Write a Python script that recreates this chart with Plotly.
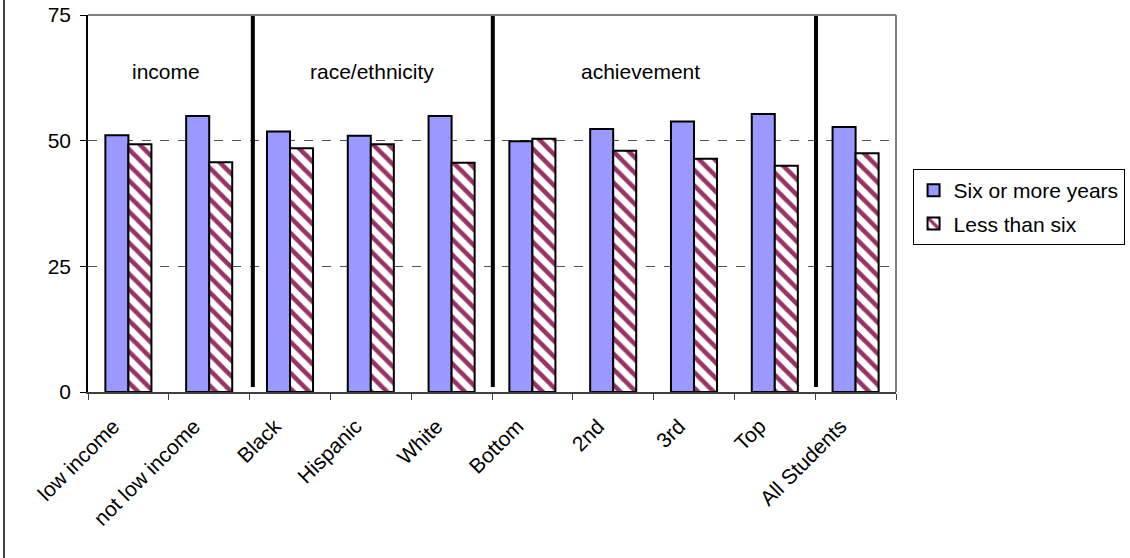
import plotly.graph_objects as go

categories = ["low income", "not low income", "Black", "Hispanic", "White",
              "Bottom", "2nd", "3rd", "Top", "All Students"]
six_or_more = [51.1, 54.9, 51.8, 51.0, 54.9, 49.9, 52.3, 53.8, 55.3, 52.7]
less_than_six = [49.3, 45.7, 48.5, 49.3, 45.6, 50.4, 48.0, 46.4, 45.0, 47.5]
y_ticks = [0, 25, 50, 75]
group_labels = ["income", "race/ethnicity", "achievement"]
group_label_pos = [0.47, 3.01, 6.34]
separator_pos = [1.54, 4.51, 8.51]

FONT = "Liberation Sans, Arial, sans-serif"
FS = 21

fig = go.Figure()
fig.add_trace(go.Bar(
    x=categories, y=six_or_more, name="Six or more years",
    marker=dict(color="#9999FF", line=dict(color="black", width=2)),
    legendgroup="a",
))
fig.add_trace(go.Bar(
    x=categories, y=less_than_six, name="Less than six",
    marker=dict(color="white", line=dict(color="black", width=2),
                pattern=dict(shape="\\", fgcolor="#993366", bgcolor="white",
                             size=11, solidity=0.42, fillmode="replace")),
    legendgroup="b",
))

shapes = []
for p in separator_pos:
    shapes.append(dict(type="line", xref="x", yref="y", x0=p, x1=p, y0=1, y1=77,
                       line=dict(color="black", width=4), layer="above"))
# gray top/right border of plot area
shapes.append(dict(type="line", xref="paper", yref="paper", x0=0, x1=1, y0=1, y1=1,
                   line=dict(color="#808080", width=2)))
shapes.append(dict(type="line", xref="paper", yref="paper", x0=1, x1=1, y0=0, y1=1,
                   line=dict(color="#808080", width=2)))
# outer chart frame left line
shapes.append(dict(type="line", xref="paper", yref="paper",
                   x0=(4 - 88) / 808, x1=(4 - 88) / 808, y0=-166 / 377, y1=1 + 15 / 377,
                   line=dict(color="black", width=1.5)))

annotations = [dict(x=gx, y=63.7, xref="x", yref="y", text=t, showarrow=False,
                    font=dict(size=FS, color="black", family=FONT))
               for gx, t in zip(group_label_pos, group_labels)]

fig.update_layout(
    width=1130, height=558,
    margin=dict(l=88, r=234, t=15, b=166, autoexpand=False),
    paper_bgcolor="white", plot_bgcolor="white",
    barmode="group", bargap=0.43, bargroupgap=0,
    font=dict(family=FONT, size=FS, color="black"),
    showlegend=True,
    legend=dict(x=1.0205, y=0.5915, xanchor="left", yanchor="top",
                bordercolor="black", borderwidth=1, bgcolor="white",
                font=dict(size=FS, family=FONT), traceorder="grouped",
                tracegroupgap=3, itemwidth=30),
    shapes=shapes,
    annotations=annotations,
)
fig.update_xaxes(
    type="category", tickangle=-45, ticks="outside", tickson="boundaries",
    ticklen=6, tickcolor="#404040", showline=True, linecolor="#404040", linewidth=1.5,
    showgrid=False, tickfont=dict(size=FS, family=FONT), automargin=False,
    ticklabelstandoff=12, ticklabelshift=-15,
)
fig.update_yaxes(
    range=[0, 75], tickvals=y_ticks, ticks="outside", ticklen=6, tickcolor="black",
    showline=True, linecolor="black", linewidth=1.5,
    showgrid=True, gridcolor="#555555", griddash="dash", gridwidth=1,
    zeroline=False, tickfont=dict(size=FS, family=FONT), automargin=False,
    ticklabelstandoff=5,
)

fig.write_html("out.html", config={"displayModeBar": False},
               post_script="document.body.style.margin='0';document.body.style.overflow='hidden';")
